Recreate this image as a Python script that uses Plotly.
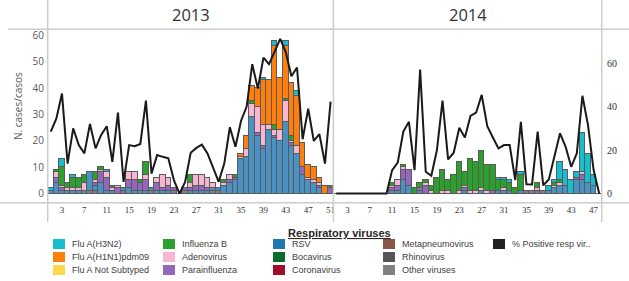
import plotly.graph_objects as go

# ---------------- data ----------------
weeks_2013 = list(range(1, 52))
weeks_2014 = list(range(1, 49))
categories = [f"2013-{w:02d}" for w in weeks_2013] + [f"2014-{w:02d}" for w in weeks_2014]

tick_weeks = [3, 7, 11, 15, 19, 23, 27, 31, 35, 39, 43, 47, 51]
tick_weeks_2014 = [3, 7, 11, 15, 19, 23, 27, 31, 35, 39, 43, 47]

rsv_2013 = [1, 4, 1, 1, 1, 1, 1, 7, 2, 4, 1, 1, 0, 1, 2, 1, 1, 1, 1, 1, 1, 1, 0, 0, 0, 1,
            1, 1, 1, 1, 1, 3, 4, 5, 13, 14, 29, 22, 17, 24, 21, 20, 27, 18, 15, 7, 5, 4, 2, 0, 0]
para_2013 = [0, 2, 1, 0, 0, 0, 0, 0, 1, 4, 5, 0, 2, 0, 3, 4, 3, 4, 0, 3, 1, 2, 1, 0, 1, 1,
             2, 2, 1, 0, 0, 0, 1, 1, 0, 0, 0, 1, 1, 0, 1, 0, 0, 1, 0, 3, 0, 0, 1, 0, 2]
adeno_2013 = [0, 2, 1, 1, 1, 1, 3, 0, 1, 1, 2, 1, 1, 0, 3, 3, 0, 2, 0, 2, 5, 3, 0, 0, 0, 2,
              4, 4, 4, 2, 0, 1, 2, 0, 1, 3, 5, 10, 8, 2, 2, 4, 8, 1, 3, 0, 1, 1, 1, 0, 0]
fluB_2013 = [0, 1, 7, 2, 4, 4, 3, 0, 3, 1, 0, 1, 0, 0, 0, 0, 1, 5, 0, 0, 0, 0, 0, 0, 0, 3,
             0, 0, 0, 0, 0, 1, 0, 1, 0, 0, 1, 0, 0, 0, 2, 0, 1, 2, 0, 0, 0, 0, 0, 0, 1]
h1n1_2013 = [0, 0, 0, 0, 0, 0, 0, 0, 0, 0, 0, 0, 0, 0, 0, 0, 0, 0, 0, 0, 0, 0, 0, 0, 0, 0,
             0, 0, 0, 0, 0, 0, 0, 0, 1, 5, 6, 7, 17, 17, 30, 20, 20, 20, 19, 9, 5, 5, 2, 3, 0]
h3n2_2013 = [1, 0, 3, 0, 1, 0, 0, 0, 0, 0, 1, 0, 0, 0, 0, 0, 0, 0, 0, 0, 0, 0, 0, 0, 0, 0,
             0, 0, 0, 0, 0, 0, 0, 0, 0, 0, 0, 0, 1, 0, 2, 0, 2, 0, 2, 0, 0, 0, 0, 0, 0]
other_2013 = [0, 0, 0, 0, 0, 0, 0, 1, 1, 0, 0, 0, 0, 1, 0, 0, 0, 0, 1, 0, 0, 0, 1, 0, 1, 0,
              0, 0, 0, 1, 1, 0, 0, 0, 0, 0, 0, 0, 0, 0, 0, 0, 0, 0, 0, 0, 0, 0, 0, 0, 0]
pos_2013 = [28.5, 34.6, 46, 13.8, 30, 22.3, 18.5, 32, 20.8, 27, 31, 14.6, 37.2, 5.4, 22.3,
            21.8, 22.8, 42.8, 9.2, 17.7, 16.9, 16.2, 6.2, 0, 5.4, 18.8, 21, 22.5, 18.5, 11.5,
            5.4, 13.8, 30.5, 21.5, 33.5, 40, 59.5, 48.3, 62.5, 59.5, 65.8, 71.2, 65, 54, 58,
            25, 39, 24.2, 27.3, 13.8, 42.3]

rsv_2014 = [0, 0, 0, 0, 0, 0, 0, 0, 0, 0, 1, 1, 5, 3, 0, 1, 0, 0, 0, 0, 0, 0, 0, 1,
            0, 0, 1, 0, 0, 1, 1, 1, 0, 1, 0, 0, 0, 0, 1, 2, 3, 3, 0, 5, 5, 4, 3, 0]
para_2014 = [0, 0, 0, 0, 0, 0, 0, 0, 0, 0, 1, 2, 4, 6, 0, 1, 3, 0, 0, 0, 0, 0, 0, 1,
             0, 0, 0, 0, 1, 0, 0, 0, 0, 0, 0, 0, 1, 0, 0, 0, 0, 0, 0, 1, 2, 0, 0, 0]
adeno_2014 = [0, 0, 0, 0, 0, 0, 0, 0, 0, 0, 1, 2, 1, 0, 0, 0, 1, 1, 0, 1, 1, 0, 1, 1,
              1, 1, 1, 1, 0, 0, 1, 0, 0, 0, 0, 0, 1, 0, 0, 1, 1, 0, 0, 0, 1, 0, 0, 0]
fluB_2014 = [0, 0, 0, 0, 0, 0, 0, 0, 0, 0, 1, 0, 1, 0, 2, 2, 1, 2, 6, 8, 4, 7, 11, 5,
             12, 11, 14, 10, 10, 4, 3, 3, 2, 6, 0, 0, 2, 0, 0, 1, 1, 0, 0, 0, 0, 0, 0, 0]
h1n1_2014 = [0] * 48
h3n2_2014 = [0, 0, 0, 0, 0, 0, 0, 0, 0, 0, 0, 0, 0, 0, 0, 0, 0, 0, 0, 0, 0, 0, 0, 0,
             0, 0, 0, 0, 0, 1, 1, 1, 0, 1, 0, 0, 0, 0, 2, 1, 7, 6, 5, 2, 15, 11, 4, 0]
other_2014 = [0, 0, 0, 0, 0, 0, 0, 0, 0, 0, 0, 0, 0, 0, 0, 0, 0, 0, 0, 0, 0, 0, 0, 0,
              0, 0, 0, 0, 0, 0, 0, 0, 0, 0, 1, 1, 0, 1, 0, 0, 0, 0, 0, 0, 0, 0, 0, 0]
pos_2014 = [0, 0, 0, 0, 0, 0, 0, 0, 0, 0, 10.8, 14.3, 28.5, 33, 10.8, 57, 10, 8.2, 20,
            42.8, 15.7, 18.8, 30.3, 25.8, 35.7, 37.2, 45.4, 31, 25.8, 20.8, 22.3, 22.3, 6.2,
            33, 4.3, 4.2, 28.5, 3.8, 6.5, 17, 27.7, 21.5, 12.3, 18.5, 45, 31.5, 10.8, 0]

legend_names = ["Flu A(H3N2)", "Flu A(H1N1)pdm09", "Flu A Not Subtyped",
                "Influenza B", "Adenovirus", "Parainfluenza",
                "RSV", "Bocavirus", "Coronavirus",
                "Metapneumovirus", "Rhinovirus", "Other viruses",
                "% Positive resp vir.."]
legend_colors = ["#17becf", "#ff7f0e", "#ffd84a",
                 "#2ca02c", "#f7b6d2", "#9467bd",
                 "#1f77b4", "#0b6b2e", "#a00d2b",
                 "#8c564b", "#555555", "#808080",
                 "#222222"]

# ---------------- figure ----------------
W, H = 629, 281
L, R, T, B = 48, 602, 29, 203

def px_x(x):
    return (x - L) / (R - L)

def px_y(y):
    return (B - y) / (B - T)

series = [  # bottom -> top
    ("Other viruses", other_2013 + other_2014, "#808080"),
    ("RSV", rsv_2013 + rsv_2014, "#4a91c4"),
    ("Parainfluenza", para_2013 + para_2014, "#9467bd"),
    ("Adenovirus", adeno_2013 + adeno_2014, "#f7b6d2"),
    ("Influenza B", fluB_2013 + fluB_2014, "#2ca02c"),
    ("Flu A(H1N1)pdm09", h1n1_2013 + h1n1_2014, "#ff7f0e"),
    ("Flu A(H3N2)", h3n2_2013 + h3n2_2014, "#17becf"),
]

fig = go.Figure()
for name, vals, col in series:
    fig.add_trace(go.Bar(
        x=categories, y=vals, name=name, showlegend=False,
        marker=dict(color=col, line=dict(color="#5a5a5a", width=1)),
    ))

fig.add_trace(go.Scatter(
    x=categories[:51], y=pos_2013, yaxis="y2", mode="lines", showlegend=False,
    line=dict(color="#1a1a1a", width=2)))
fig.add_trace(go.Scatter(
    x=categories[51:], y=pos_2014, yaxis="y2", mode="lines", showlegend=False,
    line=dict(color="#1a1a1a", width=2)))

tickvals = [f"2013-{w:02d}" for w in tick_weeks] + [f"2014-{w:02d}" for w in tick_weeks_2014]
ticktext = [str(w) for w in tick_weeks] + [str(w) for w in tick_weeks_2014]

shapes = []
grid = dict(color="#cccccc", width=1.5)
shapes.append(dict(type="line", xref="paper", yref="paper", x0=px_x(8), x1=px_x(629),
                   y0=px_y(29.3), y1=px_y(29.3), line=grid))
shapes.append(dict(type="line", xref="paper", yref="paper", x0=px_x(0), x1=px_x(629),
                   y0=px_y(202.7), y1=px_y(202.7), line=grid))
for xv in [47.7, 601.7]:
    shapes.append(dict(type="line", xref="paper", yref="paper", x0=px_x(xv), x1=px_x(xv),
                       y0=px_y(0), y1=px_y(222), line=grid))
shapes.append(dict(type="line", xref="x", yref="paper", x0=50.5, x1=50.5,
                   y0=px_y(0), y1=px_y(222), line=grid))

center = dict(xanchor="center", yanchor="middle", xref="paper", yref="paper", showarrow=False)
annotations = [
    dict(text="2013", x=px_x(190.5), y=px_y(15),
         font=dict(family="Open Sans", size=16.5, color="#333333"), **center),
    dict(text="2014", x=px_x(467.5), y=px_y(15),
         font=dict(family="Open Sans", size=16.5, color="#333333"), **center),
    dict(text="N. cases/casos", x=px_x(18), y=px_y(106), textangle=-90,
         font=dict(family="Open Sans", size=10, color="#595959"), **center),
    dict(text="<b><u>Respiratory viruses</u></b>", x=px_x(339.5), y=px_y(233),
         font=dict(family="Liberation Sans", size=11, color="#262626"), **center),
]

col_x = [53, 163, 273, 383, 493]
row_y = [244, 257, 270]
for i, (nm, col) in enumerate(zip(legend_names, legend_colors)):
    c, r = divmod(i, 3)
    x0, yc = col_x[c], row_y[r]
    shapes.append(dict(type="rect", xref="paper", yref="paper",
                       x0=px_x(x0), x1=px_x(x0 + 12), y0=px_y(yc - 5), y1=px_y(yc + 5),
                       fillcolor=col, line=dict(width=0)))
    annotations.append(dict(text=nm, x=px_x(x0 + 17), y=px_y(yc), xref="paper", yref="paper",
                            xanchor="left", yanchor="middle", showarrow=False,
                            font=dict(family="Liberation Sans", size=9, color="#404040")))

fig.update_layout(
    width=W, height=H,
    margin=dict(l=L, r=W - R, t=T, b=H - B),
    paper_bgcolor="white", plot_bgcolor="white",
    barmode="stack", bargap=0,
    showlegend=False,
    xaxis=dict(type="category", categoryorder="array", categoryarray=categories,
               range=[-0.5, len(categories) - 0.5], tickmode="array",
               tickvals=tickvals, ticktext=ticktext, tickangle=0,
               showgrid=False, zeroline=False, showline=False, ticks="",
               tickfont=dict(family="Liberation Serif", size=9, color="#333333")),
    yaxis=dict(range=[-3.58, 62.44], tickvals=[0, 10, 20, 30, 40, 50, 60],
               showgrid=False, zeroline=False, showline=False, ticks="",
               ticklabelstandoff=3,
               tickfont=dict(family="Open Sans", size=10, color="#595959")),
    yaxis2=dict(range=[-4.34, 75.7], overlaying="y", side="right",
                tickvals=[0, 20, 40, 60], showgrid=False, zeroline=False,
                showline=False, ticks="", ticklabelstandoff=4,
                tickfont=dict(family="Liberation Serif", size=10, color="#333333")),
    shapes=shapes, annotations=annotations,
)

fig.write_html("out.html", config={"displayModeBar": False},
               post_script="document.body.style.margin='0px';document.body.style.overflow='hidden';")
